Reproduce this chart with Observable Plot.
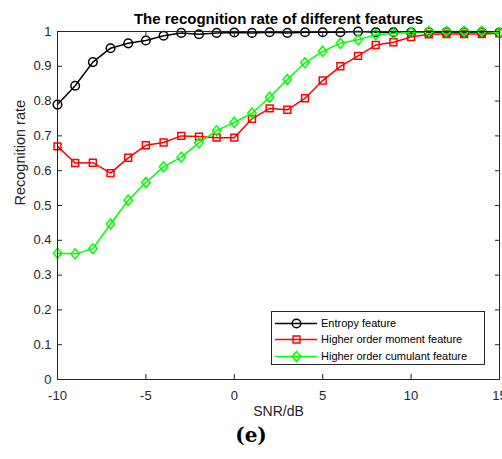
<!DOCTYPE html>
<html>
<head>
<meta charset="utf-8">
<script src="https://cdn.jsdelivr.net/npm/d3@7"></script>
<script src="https://cdn.jsdelivr.net/npm/@observablehq/plot@0.6"></script>
<style>
  html, body { margin: 0; padding: 0; background: #fff; }
  #wrap { position: relative; width: 502px; height: 459px; font-family: "Liberation Sans", Arial, sans-serif; }
  #legend { position: absolute; left: 271px; top: 311px; width: 214px; height: 54px; border: 1px solid #262626; background: #fff; box-sizing: border-box; padding-top: 3px; }
  .row { display: flex; align-items: center; height: 16.3px; font-size: 11px; color: #000; }
  .row svg { display: block; margin-left: 3px; margin-right: 4px; }
  #cap { position: absolute; left: 0; width: 502px; top: 423px; text-align: center; font-family: "DejaVu Serif", "Liberation Serif", serif; font-weight: bold; font-size: 20px; color: #000; }
</style>
</head>
<body>
<div id="wrap"></div>
<script>
const snr = [-10,-9,-8,-7,-6,-5,-4,-3,-2,-1,0,1,2,3,4,5,6,7,8,9,10,11,12,13,14,15];
const entropy = [0.790,0.844,0.912,0.952,0.966,0.974,0.988,0.996,0.992,0.996,0.997,0.996,0.998,0.996,0.998,0.998,0.998,1.000,0.998,0.998,0.998,0.998,0.998,0.998,0.998,0.997];
const moment = [0.670,0.622,0.623,0.593,0.637,0.673,0.681,0.700,0.698,0.695,0.695,0.749,0.779,0.775,0.808,0.859,0.900,0.930,0.961,0.969,0.984,0.992,0.993,0.993,0.993,0.995];
const cumulant = [0.363,0.361,0.376,0.447,0.515,0.566,0.611,0.639,0.680,0.715,0.739,0.765,0.811,0.862,0.910,0.943,0.966,0.976,0.991,0.994,0.998,1.000,1.000,1.000,1.000,0.997];
const seriesNames = ["Entropy feature","Higher order moment feature","Higher order cumulant feature"];
const seriesColors = ["#000000","#ff0000","#00ff00"];
const xTicks = [-10,-5,0,5,10,15];
const yTicks = [0,0.1,0.2,0.3,0.4,0.5,0.6,0.7,0.8,0.9,1];
const title = "The recognition rate of different features";
const xLabel = "SNR/dB";
const yLabel = "Recognition rate";
const caption = "(e)";

const diamondM = {draw(ctx, size) { const r = Math.sqrt(size / Math.PI); ctx.moveTo(0, -r * 1.2); ctx.lineTo(r, 0); ctx.lineTo(0, r * 1.2); ctx.lineTo(-r, 0); ctx.closePath(); }};
const symbols = ["circle", "square", diamondM];
const radii = [4.3, 3.9, 4.2];

const allSeries = [entropy, moment, cumulant];
const data = allSeries.map((vals, i) => snr.map((x, j) => ({x, y: vals[j], s: seriesNames[i]})));

const marks = [];
data.forEach((d, i) => {
  marks.push(Plot.line(d, {x: "x", y: "y", stroke: seriesColors[i], strokeWidth: 1.5}));
  marks.push(Plot.dot(d, {x: "x", y: "y", stroke: seriesColors[i], fill: "none", strokeWidth: 1.5, symbol: symbols[i], r: radii[i]}));
});

const chart = Plot.plot({
  width: 502, height: 459,
  marginTop: 31, marginBottom: 80, marginLeft: 57, marginRight: 3,
  style: {fontFamily: "'Liberation Sans', Arial, sans-serif", background: "#fff", overflow: "visible"},
  x: {domain: [-10, 15], label: null},
  y: {domain: [0, 1], label: null},
  marks: [
    ...marks,
    Plot.frame({stroke: "#262626", strokeWidth: 1}),
    Plot.axisX({anchor: "bottom", ticks: xTicks, tickSize: -5, tickPadding: 16, fontSize: 13, fill: "#262626", stroke: "#262626", label: null, tickFormat: d => String(d)}),
    Plot.axisX({anchor: "top", ticks: xTicks, tickSize: -5, stroke: "#262626", label: null, tickFormat: () => ""}),
    Plot.axisY({anchor: "left", ticks: yTicks, tickSize: -5, tickPadding: 11, fontSize: 13, fill: "#262626", stroke: "#262626", label: null, tickFormat: d => String(d)}),
    Plot.axisY({anchor: "right", ticks: yTicks, tickSize: -5, stroke: "#262626", label: null, tickFormat: () => ""}),
    Plot.text([title], {frameAnchor: "top", dy: -8, lineAnchor: "bottom", fontWeight: "bold", fontSize: 15, fill: "#000"}),
    Plot.text([xLabel], {frameAnchor: "bottom", dy: 32, lineAnchor: "middle", fontSize: 14, fill: "#262626"}),
    Plot.text([yLabel], {frameAnchor: "left", dx: -37, rotate: -90, lineAnchor: "middle", fontSize: 14.5, fill: "#262626"})
  ]
});

const wrap = document.getElementById("wrap");
wrap.appendChild(chart);

// legend
const legend = document.createElement("div");
legend.id = "legend";
seriesNames.forEach((name, i) => {
  const row = document.createElement("div");
  row.className = "row";
  const sw = Plot.plot({
    width: 42, height: 14, margin: 0,
    x: {domain: [0, 1], axis: null}, y: {domain: [0, 1], axis: null},
    style: {background: "transparent", overflow: "visible"},
    marks: [
      Plot.ruleY([0.5], {stroke: seriesColors[i], strokeWidth: 1.5}),
      Plot.dot([{x: 0.5, y: 0.5}], {x: "x", y: "y", stroke: seriesColors[i], fill: "none", strokeWidth: 1.5, symbol: symbols[i], r: radii[i]})
    ]
  });
  row.appendChild(sw);
  const t = document.createElement("span");
  t.textContent = name;
  row.appendChild(t);
  legend.appendChild(row);
});
wrap.appendChild(legend);

const cap = document.createElement("div");
cap.id = "cap";
cap.textContent = caption;
wrap.appendChild(cap);
</script>
</body>
</html>
